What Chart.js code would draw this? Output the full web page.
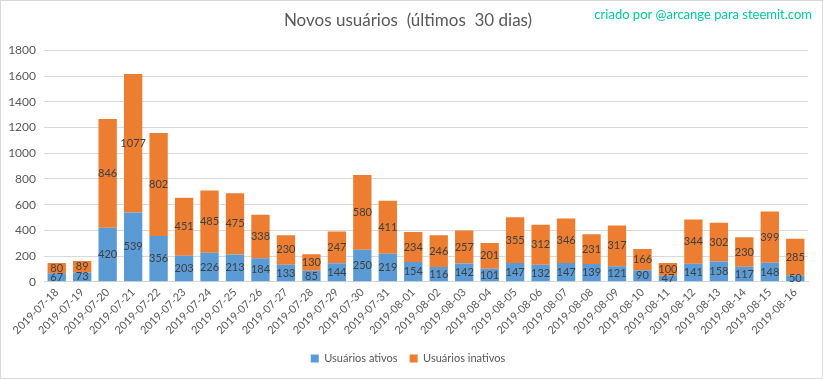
<!DOCTYPE html>
<html>
<head>
<meta charset="utf-8">
<script src="https://cdn.jsdelivr.net/npm/chart.js@4"></script>
<style>
  body { margin: 0; background: #fff; }
</style>
</head>
<body>
<canvas id="chart-novos" width="823" height="379"></canvas>
<script>
const dias = ["2019-07-18", "2019-07-19", "2019-07-20", "2019-07-21", "2019-07-22", "2019-07-23",
    "2019-07-24", "2019-07-25", "2019-07-26", "2019-07-27", "2019-07-28", "2019-07-29",
    "2019-07-30", "2019-07-31", "2019-08-01", "2019-08-02", "2019-08-03", "2019-08-04",
    "2019-08-05", "2019-08-06", "2019-08-07", "2019-08-08", "2019-08-09", "2019-08-10",
    "2019-08-11", "2019-08-12", "2019-08-13", "2019-08-14", "2019-08-15", "2019-08-16"];
const ativos = [67, 73, 420, 539, 356, 203, 226, 213, 184, 133, 85, 144, 250, 219, 154,
    116, 142, 101, 147, 132, 147, 139, 121, 90, 47, 141, 158, 117, 148, 50];
const inativos = [80, 89, 846, 1077, 802, 451, 485, 475, 338, 230, 130, 247, 580, 411, 234,
    246, 257, 201, 355, 312, 346, 231, 317, 166, 100, 344, 302, 230, 399, 285];
const yTicks = [0, 200, 400, 600, 800, 1000, 1200, 1400, 1600, 1800];

const fonte = "Lato, 'Open Sans', sans-serif";

// rótulos dentro das barras + marca d'água + borda
const extras = {
    id: "extras",
    afterDatasetsDraw(chart) {
        const ctx = chart.ctx;
        ctx.save();
        ctx.font = "11px " + fonte;
        ctx.fillStyle = "#404040";
        ctx.textAlign = "center";
        ctx.textBaseline = "middle";
        chart.data.datasets.forEach(function (ds, i) {
            chart.getDatasetMeta(i).data.forEach(function (bar, j) {
                ctx.fillText(ds.data[j], bar.x, (bar.y + bar.base) / 2);
            });
        });
        ctx.restore();
    },
    afterDraw(chart) {
        const ctx = chart.ctx;
        ctx.save();
        ctx.font = "13px " + fonte;
        ctx.fillStyle = "#00C8A0";
        ctx.textAlign = "right";
        ctx.textBaseline = "middle";
        ctx.fillText("criado por @arcange para steemit.com", 812, 15);
        ctx.strokeStyle = "#d9d9d9";
        ctx.lineWidth = 1;
        ctx.strokeRect(0.5, 0.5, chart.width - 1, chart.height - 1);
        ctx.restore();
    }
};

new Chart(document.getElementById("chart-novos").getContext("2d"), {
    type: "bar",
    data: {
        labels: dias,
        datasets: [{
            label: "Usuários ativos",
            backgroundColor: "#5B9BD5",
            data: ativos,
        }, {
            label: "Usuários inativos",
            backgroundColor: "#ED7D31",
            data: inativos,
        }],
    },
    options: {
        responsive: false,
        animation: false,
        layout: { padding: { left: 8, right: 15, top: 0, bottom: 5 } },
        plugins: {
            title: {
                display: true,
                text: "Novos usuários  (últimos  30 dias)",
                color: "#595959",
                font: { family: fonte, size: 17, weight: "normal" },
                padding: { top: 10, bottom: 20 },
            },
            legend: {
                position: "bottom",
                labels: {
                    color: "#595959",
                    font: { family: fonte, size: 11 },
                    boxWidth: 8,
                    boxHeight: 8,
                    padding: 12,
                },
            },
            tooltip: { enabled: false },
        },
        scales: {
            x: {
                stacked: true,
                categoryPercentage: 1,
                barPercentage: 0.72,
                grid: { display: false, drawTicks: false },
                border: { color: "#d9d9d9" },
                ticks: {
                    color: "#595959",
                    font: { family: fonte, size: 11 },
                    maxRotation: 45,
                    minRotation: 45,
                    autoSkip: false,
                    padding: 4,
                },
            },
            y: {
                stacked: true,
                min: 0,
                max: 1800,
                afterBuildTicks(scale) {
                    scale.ticks = yTicks.map(v => ({ value: v }));
                },
                afterFit(scale) { scale.width = 36; },
                grid: { color: "#d9d9d9", drawTicks: false },
                border: { display: false },
                ticks: {
                    color: "#595959",
                    font: { family: fonte, size: 12 },
                    padding: 8,
                    callback: v => String(v),
                },
            },
        },
    },
    plugins: [extras],
});
</script>
</body>
</html>
